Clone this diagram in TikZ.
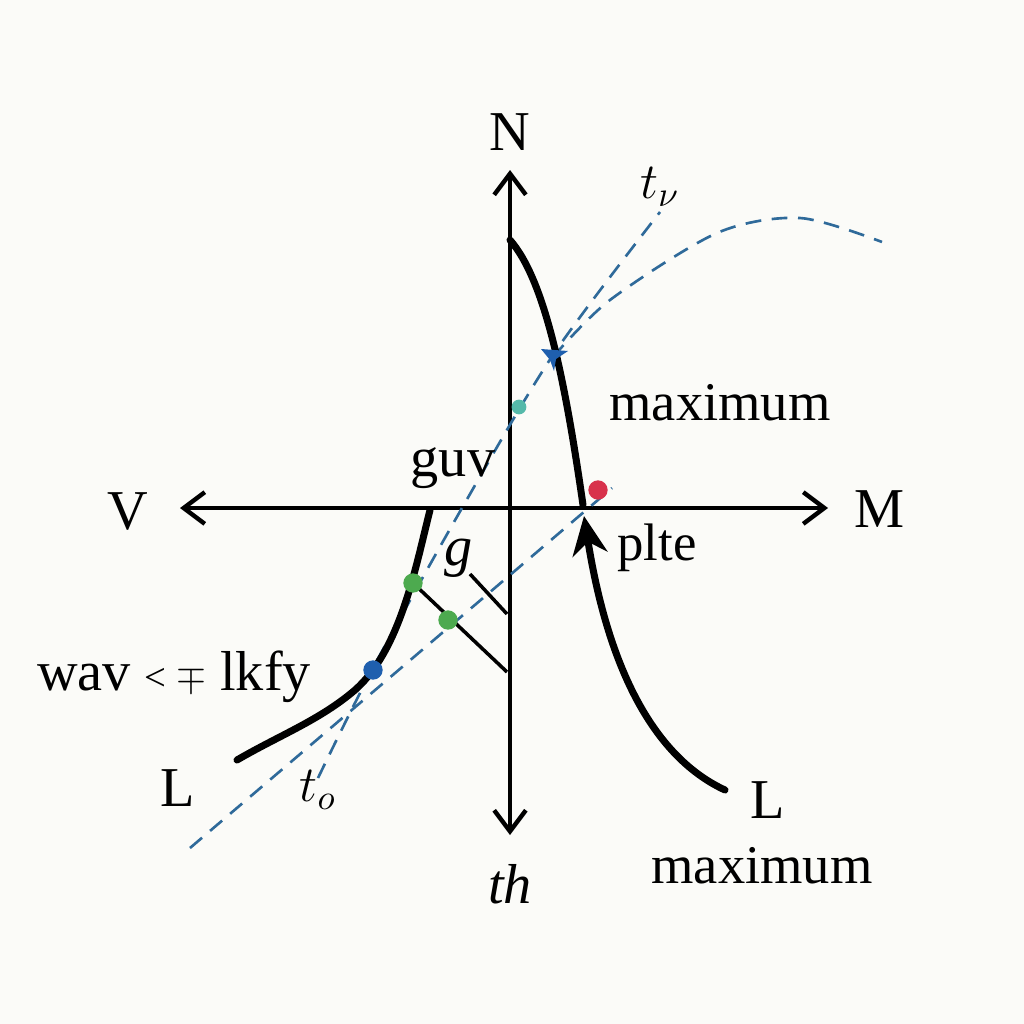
\documentclass[tikz,border=0pt]{standalone}
\usepackage{fontspec}
\setmainfont{Liberation Serif}
\usetikzlibrary{arrows.meta}
\definecolor{bg}{HTML}{FBFBF8}
\definecolor{dashblue}{HTML}{2F6A9A}
\definecolor{dotred}{HTML}{D8324C}
\definecolor{dotgreen}{HTML}{4DAA4F}
\definecolor{dotblue}{HTML}{1F5FAE}
\definecolor{dotteal}{HTML}{55B9AA}
\tikzset{
  axis/.style={line width=1.25pt,{Straight Barb[length=6pt,width=9pt,line width=1.25pt]}-{Straight Barb[length=6pt,width=9pt,line width=1.25pt]}},
  curve/.style={line width=2pt,line cap=round},
  guide/.style={dashblue,line width=0.75pt,dash pattern=on 4.5pt off 3pt},
  thin/.style={line width=1pt},
  lab/.style={font=\fontsize{16}{18}\selectfont,inner sep=0pt},
  biglab/.style={font=\fontsize{15.5}{18}\selectfont,inner sep=0pt},
  dot/.style={circle,inner sep=0pt,minimum size=#1},
}
\begin{document}
\begin{tikzpicture}[x=0.01cm,y=-0.01cm]
\fill[bg] (0,0) rectangle (1024,1024);
\useasboundingbox (0,0) rectangle (1024,1024);
% axes
\coordinate (vt) at (510,170);
\coordinate (vb) at (510,835);
\coordinate (hl) at (180,508);
\coordinate (hr) at (828,508);
\draw[axis] (vb) -- (vt);
\draw[axis] (hl) -- (hr);
% dashed guides
\coordinate (g1a) at (190,848);
\coordinate (g1b) at (612,488);
\draw[guide] (g1a) -- (g1b);
\draw[guide] plot[smooth] coordinates {(318,778) (373,668) (462,508) (553,355) (660,212)};
\draw[guide] plot[smooth] coordinates {(553,357) (610,300) (717,233) (800,218) (882,242)};
% right black curve
\coordinate (rc0) at (510,240);
\coordinate (rc1) at (583,505);
\coordinate (rc2) at (584,516);
\coordinate (rc3) at (725,790);
\draw[curve] (rc0) .. controls (545,280) and (565,380) .. (rc1);
\draw[curve,-{Stealth[length=11pt,width=10pt]}] (rc3) .. controls (660,760) and (610,680) .. (rc2);
% left black curve
\coordinate (lc0) at (430,510);
\coordinate (lc1) at (237,760);
\draw[curve] (lc0) .. controls (415,570) and (400,650) .. (355,690) .. controls (320,720) and (280,735) .. (lc1);
% thin black lines
\coordinate (t1a) at (413,583);
\coordinate (t1b) at (507,672);
\coordinate (t2a) at (470,574);
\coordinate (t2b) at (507,614);
\draw[thin] (t1a) -- (t1b);
\draw[thin] (t2a) -- (t2b);
% dots
\node[dot=5.5pt,fill=dotred] (dr) at (598,490) {};
\node[dot=5.5pt,fill=dotgreen] (dg1) at (413,583) {};
\node[dot=5.5pt,fill=dotgreen] (dg2) at (448,620) {};
\node[dot=5.5pt,fill=dotblue] (db) at (373,670) {};
\node[dot=4.2pt,fill=dotteal] (dt) at (519,407) {};
\fill[dotblue] (541,349) -- (568,351) -- (556,359) -- (554,371) -- (550,360) -- cycle;
% labels
\node[lab] (lN) at (510,132) {N};
\node[lab] (lV) at (128,511) {V};
\node[lab] (lM) at (880,509) {M};
\node[lab] (lL1) at (178,788) {L};
\node[lab] (lL2) at (768,800) {L};
\node[biglab] (lmax1) at (720,403) {maximum};
\node[biglab] (lmax2) at (762,866) {maximum};
\node[lab] (lguv) at (453,468) {guv};
\node[lab,font=\fontsize{15}{18}\selectfont] (lplte) at (657,548) {plte};
\node[lab] (lg) at (459,558) {\itshape g};
\node[lab] (lwav) at (174,677) {wav {\fontsize{11}{12}\selectfont<\ \raisebox{0.5pt}{$\mp$}} lkfy};
\node[lab] (lth) at (510,884) {\itshape th};
\node[lab,font=\fontsize{14}{16}\selectfont] (lto) at (318,790) {$t_o$};
\node[lab,font=\fontsize{14}{16}\selectfont] (ltn) at (660,187) {$t_\nu$};
\end{tikzpicture}
\end{document}
